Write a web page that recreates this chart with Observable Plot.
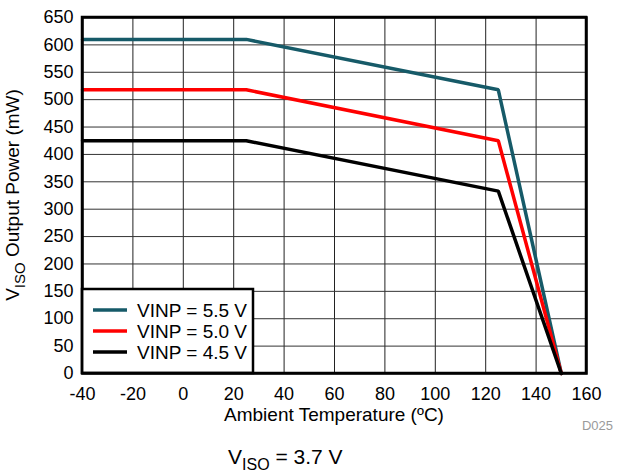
<!DOCTYPE html>
<html><head><meta charset="utf-8">
<script src="https://cdn.jsdelivr.net/npm/d3@7"></script>
<script src="https://cdn.jsdelivr.net/npm/@observablehq/plot@0.6"></script>
<style>body{margin:0;background:#fff} svg{display:block}</style>
</head><body><div id="chart"></div>
<script>
const temps = [-40, 25, 125, 150];
const p55 = [610, 610, 518, 0];
const p50 = [518, 518, 425, 0];
const p45 = [425, 425, 333, 0];
const seriesNames = ["VINP = 5.5 V", "VINP = 5.0 V", "VINP = 4.5 V"];
const seriesColors = ["#165a68", "#ff0000", "#000000"];
const xTicks = d3.range(-40, 161, 20);
const yTicks = d3.range(0, 651, 50);

const data = [];
[p55, p50, p45].forEach((vals, i) => temps.forEach((t, j) => data.push({series: seriesNames[i], t, p: vals[j]})));

const W = 621, H = 472, mL = 82, mR = 35, mT = 17, mB = 99;
const FONT = "'Liberation Sans', Arial, Helvetica, sans-serif";
const plot = Plot.plot({
  width: W, height: H, marginLeft: mL, marginRight: mR, marginTop: mT, marginBottom: mB,
  style: {fontFamily: FONT, fontSize: "18px", color: "#000", background: "#fff"},
  x: {domain: [-40, 160]},
  y: {domain: [0, 650]},
  color: {domain: seriesNames, range: seriesColors},
  marks: [
    Plot.gridX(xTicks, {stroke: "#222", strokeOpacity: 1, strokeWidth: 1}),
    Plot.gridY(yTicks, {stroke: "#333", strokeOpacity: 1, strokeWidth: 1}),
    Plot.axisX(xTicks, {tickSize: 0, tickPadding: 14, label: null, tickFormat: d => String(d), fontSize: 18}),
    Plot.axisY(yTicks, {tickSize: 0, tickPadding: 9, label: null, tickFormat: d => String(d), fontSize: 18}),
    Plot.line(data, {x: "t", y: "p", z: "series", stroke: "series", strokeWidth: 3.5, strokeLinejoin: "miter"}),
    Plot.frame({stroke: "#000", strokeWidth: 2.5})
  ]
});
document.getElementById("chart").append(plot);

const svg = d3.select(plot);
// Legend
const lg = svg.append("g").attr("text-anchor", "start");
const lx0 = mL, ly0 = 289, lw = 171, lh = 373 - 289;
lg.append("rect").attr("x", lx0).attr("y", ly0).attr("width", lw).attr("height", lh)
  .attr("fill", "#fff").attr("stroke", "#000").attr("stroke-width", 2.5);
seriesNames.forEach((name, i) => {
  const cy = 310 + i * 21;
  lg.append("line").attr("x1", 93).attr("x2", 127).attr("y1", cy).attr("y2", cy)
    .attr("stroke", seriesColors[i]).attr("stroke-width", 3.5);
  lg.append("text").attr("x", 137).attr("y", cy).attr("dy", "0.36em").attr("text-anchor", "start")
    .attr("font-family", FONT).attr("font-size", 19).attr("fill", "#000").text(name);
});
// frame on top again
svg.append("rect").attr("x", mL).attr("y", mT).attr("width", W - mL - mR).attr("height", H - mT - mB)
  .attr("fill", "none").attr("stroke", "#000").attr("stroke-width", 2.5);

// Y label
const yl = svg.append("text").attr("transform", `translate(19,${(mT + H - mB) / 2}) rotate(-90)`)
  .attr("text-anchor", "middle").attr("font-family", FONT).attr("font-size", 19).attr("fill", "#000");
yl.append("tspan").text("V");
yl.append("tspan").attr("dy", 6).attr("font-size", 15).text("ISO");
yl.append("tspan").attr("dy", -6).text(" Output Power (mW)");

// X label
svg.append("text").attr("x", (mL + W - mR) / 2).attr("y", 421).attr("text-anchor", "middle")
  .attr("font-family", FONT).attr("font-size", 19).attr("fill", "#000").text("Ambient Temperature (ºC)");

// D025
svg.append("text").attr("x", 613).attr("y", 430).attr("text-anchor", "end")
  .attr("font-family", FONT).attr("font-size", 13).attr("fill", "#9a9a9a").text("D025");

// Bottom condition
const bt = svg.append("text").attr("x", 228).attr("y", 464).attr("text-anchor", "start")
  .attr("font-family", FONT).attr("font-size", 21).attr("fill", "#000");
bt.append("tspan").text("V");
bt.append("tspan").attr("dy", 6).attr("font-size", 16).text("ISO");
bt.append("tspan").attr("dy", -6).text(" = 3.7 V");
</script>
</body></html>
